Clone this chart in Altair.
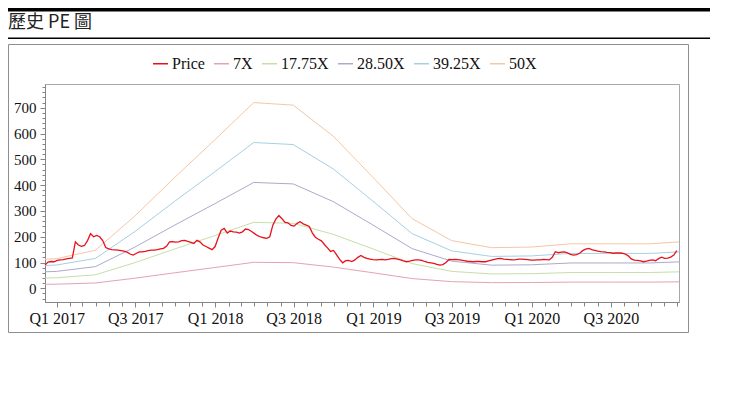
import altair as alt
import pandas as pd

# ---------------- data ----------------
title_text = "歷史 PE 圖"
series_names = ["Price", "7X", "17.75X", "28.50X", "39.25X", "50X"]
band_multiples = [7, 17.75, 28.5, 39.25, 50]
series_colors = ["#e8111b", "#e4a3b3", "#c6dea8", "#abaacb", "#a6d0e1", "#f5c6a5"]

# weekly closing prices, starting Monday 2016-12-05
price_start = "2016-12-05"
price_values = [
    90, 102, 104, 103, 108, 110, 111, 114, 116, 118,
    180, 168, 163, 166, 185, 212, 200, 205, 200, 185,
    158, 153, 150, 149, 148, 146, 144, 140, 133, 129,
    135, 141, 141, 143, 146, 148, 148, 150, 153, 155,
    163, 180, 181, 179, 180, 185, 186, 182, 178, 174,
    186, 180, 168, 162, 156, 150, 162, 195, 225, 232,
    214, 222, 219, 218, 214, 219, 230, 228, 220, 212,
    204, 199, 196, 194, 200, 245, 268, 282, 270, 256,
    254, 244, 241, 252, 258, 250, 245, 240, 215, 198,
    190, 184, 170, 157, 143, 147, 130, 112, 99, 107,
    108, 104, 110, 120, 127, 120, 116, 113, 111, 110,
    111, 112, 110, 112, 115, 116, 113, 110, 106, 103,
    105, 108, 110, 110, 108, 104, 101, 99, 97, 93,
    90, 92, 100, 112, 111, 112, 111, 109, 107, 105,
    104, 103, 104, 104, 103, 103, 106, 109, 112, 115,
    116, 113, 112, 111, 110, 111, 113, 113, 112, 111,
    109, 109, 110, 110, 112, 111, 110, 120, 142, 138,
    140, 141, 137, 132, 129, 131, 136, 146, 152, 155,
    150, 147, 144, 142, 141, 139, 138, 136, 137, 137,
    136, 133, 126, 114, 109, 108, 106, 103, 105, 108,
    110, 107, 115, 121, 116, 117, 121, 129, 146,
]

# trailing EPS at quarter ends (bands = EPS x multiple)
eps_dates = [
    "2016-12-05", "2016-12-31", "2017-03-31", "2017-06-30", "2017-09-30",
    "2017-12-31", "2018-03-31", "2018-06-30", "2018-09-30", "2018-12-31",
    "2019-03-31", "2019-06-30", "2019-09-30", "2019-12-31", "2020-03-31",
    "2020-06-30", "2020-09-30", "2020-12-05",
]
eps_values = [
    2.25, 2.3, 2.95, 5.6, 8.6,
    11.5, 14.4, 14.2, 11.8, 8.6,
    5.4, 3.7, 3.15, 3.2, 3.45,
    3.45, 3.45, 3.6,
]

x_label_dates = [(2017, 1), (2017, 7), (2018, 1), (2018, 7),
                 (2019, 1), (2019, 7), (2020, 1), (2020, 7)]
y_major_ticks = [0, 100, 200, 300, 400, 500, 600, 700]
y_minor_ticks = list(range(-40, 781, 20))
y_domain = [-53, 792]

# ---------------- tables ----------------
price_df = pd.DataFrame({
    "date": pd.date_range(price_start, periods=len(price_values), freq="7D").strftime("%Y-%m-%dT00:00:00"),
    "value": price_values,
    "series": "Price",
})

band_rows = []
for name, m in zip(series_names[1:], band_multiples):
    for d, e in zip(eps_dates, eps_values):
        band_rows.append({"date": d + "T00:00:00", "value": e * m, "series": name})
band_df = pd.DataFrame(band_rows)

minor_months = pd.date_range("2017-01-01", "2020-12-01", freq="MS")
x_minor_vals = [alt.DateTime(year=int(t.year), month=int(t.month), date=1) for t in minor_months]
x_major_vals = [alt.DateTime(year=y, month=m, date=1) for y, m in x_label_dates]

FONT = "Liberation Serif"
AXIS_GRAY = "#858585"

x_scale = alt.Scale(domain=[alt.DateTime(year=2016, month=12, date=5),
                            alt.DateTime(year=2020, month=12, date=5)], nice=False)
y_scale = alt.Scale(domain=y_domain, nice=False, zero=False)
color_scale = alt.Scale(domain=series_names, range=series_colors)

legend = alt.Legend(
    orient="none", legendX=107, legendY=-29, direction="horizontal", columns=6,
    title=None, symbolType="stroke", symbolSize=225, symbolStrokeWidth=1.5,
    labelFont=FONT, labelFontSize=16, labelColor="#111", columnPadding=6,
    labelOffset=3, padding=0,
)

x_major_axis = alt.Axis(
    orient="bottom", values=x_major_vals, title=None, grid=False,
    labelExpr="(month(datum.value) < 6 ? 'Q1 ' : 'Q3 ') + year(datum.value)",
    labelFont=FONT, labelFontSize=16, labelColor="#111", labelPadding=3,
    tickSize=5, tickColor=AXIS_GRAY, domainColor=AXIS_GRAY,
    labelFlush=False, labelOverlap=False,
)
y_major_axis = alt.Axis(
    orient="left", values=y_major_ticks, title=None, grid=False,
    labelFont=FONT, labelFontSize=15, labelColor="#111", labelPadding=4,
    tickSize=5, tickColor=AXIS_GRAY, domainColor=AXIS_GRAY,
)
x_minor_axis = alt.Axis(orient="bottom", values=x_minor_vals, labels=False, title=None,
                        grid=False, domain=False, tickSize=4, tickColor=AXIS_GRAY)
y_minor_axis = alt.Axis(orient="left", values=y_minor_ticks, labels=False, title=None,
                        grid=False, domain=False, tickSize=3, tickColor=AXIS_GRAY)

bands = alt.Chart(band_df).mark_line(strokeWidth=1).encode(
    x=alt.X("date:T", scale=x_scale, axis=x_major_axis),
    y=alt.Y("value:Q", scale=y_scale, axis=y_major_axis),
    color=alt.Color("series:N", scale=color_scale, legend=legend),
    detail="series:N",
)

price = alt.Chart(price_df).mark_line(strokeWidth=1.3).encode(
    x=alt.X("date:T", scale=x_scale, axis=None),
    y=alt.Y("value:Q", scale=y_scale, axis=None),
    color=alt.Color("series:N", scale=color_scale, legend=legend),
)

minor = alt.Chart(band_df).mark_point(opacity=0).encode(
    x=alt.X("date:T", scale=x_scale, axis=x_minor_axis),
    y=alt.Y("value:Q", scale=y_scale, axis=y_minor_axis),
)

one = pd.DataFrame({"k": [0]})

top_bar = alt.Chart(one).mark_rule(color="#000", strokeWidth=3.5).encode(
    x=alt.value(-37), x2=alt.value(665), y=alt.value(-74.2))
sub_line = alt.Chart(one).mark_rule(color="#000", strokeWidth=1.5).encode(
    x=alt.value(-37), x2=alt.value(665), y=alt.value(-45.7))
title_mark = alt.Chart(one).mark_text(
    text=title_text, font="Noto Sans CJK TC", fontSize=18, color="#222",
    align="left", baseline="alphabetic").encode(x=alt.value(-37), y=alt.value(-56.5))
box = alt.Chart(one).mark_rect(fillOpacity=0, stroke="#8e8e8e", strokeWidth=1).encode(
    x=alt.value(-36.5), x2=alt.value(643.5), y=alt.value(-39.5), y2=alt.value(248.5))

chart = alt.layer(
    box, top_bar, sub_line, title_mark, minor, bands, price
).resolve_axis(
    x="independent", y="independent"
).properties(
    width=634, height=218, autosize="none",
    padding={"left": 37, "top": 76, "right": 35, "bottom": 36},
).configure_view(stroke="#a8a8a8", strokeWidth=1)

chart.save("out.html", embed_options={"renderer": "svg", "actions": False})
